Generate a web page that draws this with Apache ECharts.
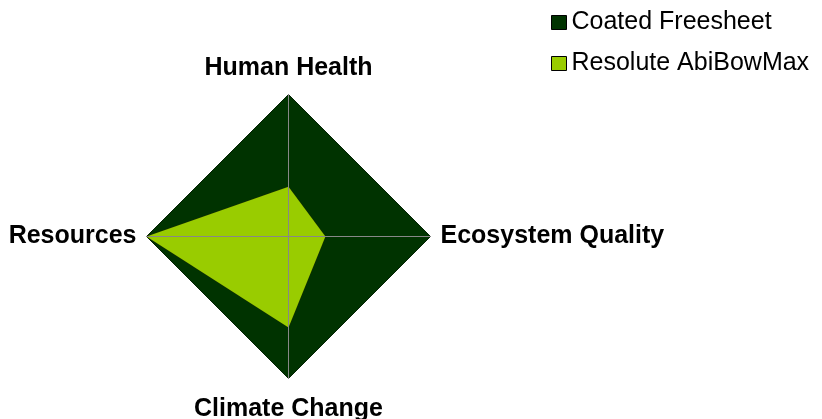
<!DOCTYPE html>
<html>
<head>
<meta charset="utf-8">
<script src="https://cdn.jsdelivr.net/npm/echarts@6/dist/echarts.min.js"></script>
<style>
  html, body { margin: 0; padding: 0; background: #fff; }
  #chart { width: 822px; height: 419px; }
</style>
</head>
<body>
<div id="chart"></div>
<script>
// indicator order follows ECharts radar: top, left, bottom, right
const indicators = ['Human Health', 'Resources', 'Climate Change', 'Ecosystem Quality'];
const seriesNames = ['Coated Freesheet', 'Resolute AbiBowMax'];
const coatedFreesheet = [1, 1, 1, 1];
const resoluteAbiBowMax = [0.35, 1, 0.64, 0.26];
const colors = ['#003300', '#99cc00'];

const font = '"Liberation Sans", Arial, sans-serif';

function createChartConfig() {
  return {
    animation: false,
    backgroundColor: '#ffffff',
    legend: {
      orient: 'vertical',
      left: 551,
      top: 10,
      padding: 0,
      itemWidth: 15,
      itemHeight: 14,
      itemGap: 16,
      icon: 'rect',
      data: seriesNames,
      textStyle: { fontFamily: font, fontSize: 25, color: '#000' },
      itemStyle: { borderColor: '#000', borderWidth: 1 }
    },
    radar: {
      z: 5,
      center: [288.5, 236.5],
      radius: 142,
      startAngle: 90,
      shape: 'polygon',
      splitNumber: 1,
      indicator: indicators.map(name => ({ name, min: 0, max: 1 })),
      nameGap: 10,
      axisName: {
        color: '#000',
        fontFamily: font,
        fontSize: 25,
        fontWeight: 'bold',
        padding: [8, 0, 4, 0]
      },
      axisLine: { lineStyle: { color: '#888888', width: 1 } },
      splitLine: { show: false },
      splitArea: { show: false }
    },
    series: [{
      type: 'radar',
      z: 2,
      symbol: 'none',
      data: [
        {
          name: seriesNames[0],
          value: coatedFreesheet,
          itemStyle: { color: colors[0] },
          lineStyle: { color: '#0a140a', width: 1 },
          areaStyle: { color: colors[0], opacity: 1 }
        },
        {
          name: seriesNames[1],
          value: resoluteAbiBowMax,
          itemStyle: { color: colors[1] },
          lineStyle: { color: '#1a2a00', width: 1 },
          areaStyle: { color: colors[1], opacity: 1 }
        }
      ]
    }]
  };
}

const chart = echarts.init(document.getElementById('chart'));
chart.setOption(createChartConfig());
</script>
</body>
</html>
